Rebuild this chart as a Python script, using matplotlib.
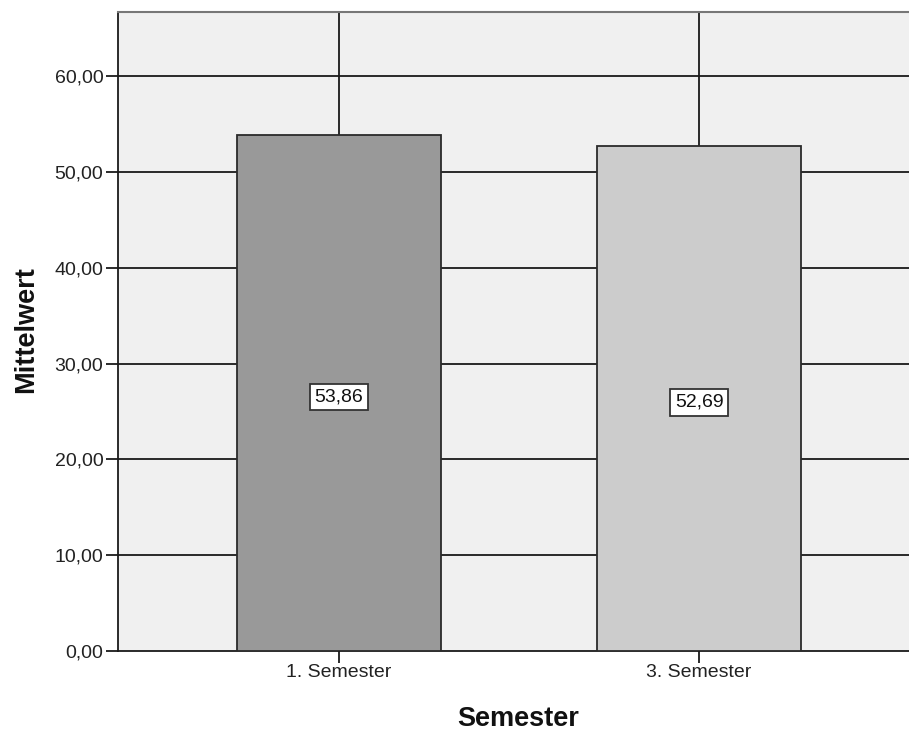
import matplotlib
matplotlib.use("Agg")
import matplotlib.pyplot as plt
import numpy as np

categories = ["1. Semester", "3. Semester"]
means = [53.86, 52.69]
errors = [30.0, 30.0]
value_labels = ["53,86", "52,69"]
bar_colors = ["#999999", "#cccccc"]
yticks = [0, 10, 20, 30, 40, 50, 60]
ytick_labels = ["0,00", "10,00", "20,00", "30,00", "40,00", "50,00", "60,00"]

plt.rcParams['font.family'] = ['Liberation Sans', 'DejaVu Sans']

W, H = 909, 733
fig = plt.figure(figsize=(W/100, H/100), dpi=100)
ax = fig.add_axes([118/W, 1-651/H, (W-118)/W, (651-12)/H])
ax.set_facecolor("#f0f0f0")

x = np.arange(len(categories))
ax.set_xlim(-0.614, 1.583)
ax.set_ylim(0, 66.68)

for yv in yticks[1:]:
    ax.axhline(yv, color="#1a1a1a", lw=1.3, zorder=1)

ax.errorbar(x, means, yerr=errors, fmt="none", ecolor="#1a1a1a", elinewidth=1.3, capsize=0, zorder=2)
ax.bar(x, means, width=0.567, color=bar_colors, edgecolor="#2a2a2a", linewidth=1.3, zorder=3)

for xi, m, lab in zip(x, means, value_labels):
    ax.text(xi, m/2 - 0.4, lab, ha="center", va="center", fontsize=14, color="#111111", zorder=5,
            bbox=dict(boxstyle="square,pad=0.24", facecolor="white", edgecolor="#333333", linewidth=1.3))

ax.set_xticks(x)
ax.set_xticklabels(categories, fontsize=14, color="#222222")
ax.set_yticks(yticks)
ax.set_yticklabels(ytick_labels, fontsize=14, color="#222222")
ax.tick_params(axis="y", direction="out", length=8.6, width=1.3, color="#1a1a1a", pad=2)
ax.tick_params(axis="x", direction="out", length=8.6, width=1.3, color="#1a1a1a", pad=1)

ax.spines["left"].set_color("#1a1a1a")
ax.spines["left"].set_linewidth(1.3)
ax.spines["bottom"].set_color("#1a1a1a")
ax.spines["bottom"].set_linewidth(1.3)
ax.spines["top"].set_color("#777777")
ax.spines["top"].set_linewidth(1.5)
ax.spines["right"].set_visible(False)

fig.text(33/W, 1-330/H, "Mittelwert", rotation=90, rotation_mode="anchor",
         ha="center", va="baseline", fontsize=19.5, fontweight="bold", color="#111111")
fig.text(518/W, 1.5/H, "Semester", ha="center", va="bottom",
         fontsize=19.5, fontweight="bold", color="#111111")

fig.savefig("out.png", dpi=100)
